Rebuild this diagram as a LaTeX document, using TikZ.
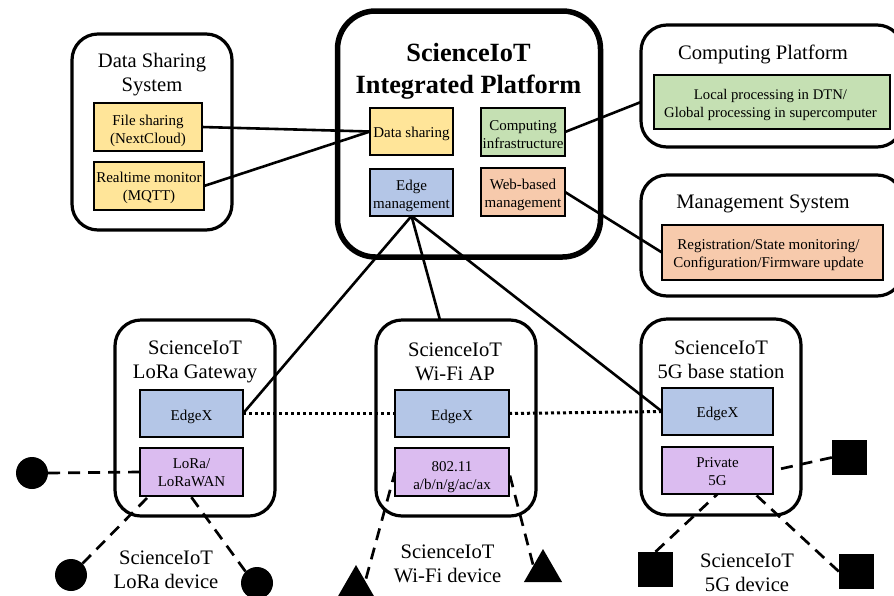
\documentclass[tikz,border=0pt]{standalone}
\usepackage{fontspec}
\setmainfont{Liberation Serif}
\usetikzlibrary{calc,shapes.geometric}
\definecolor{cyellow}{HTML}{FFE599}
\definecolor{cgreen}{HTML}{C5E0B3}
\definecolor{cblue}{HTML}{B4C6E7}
\definecolor{corange}{HTML}{F7CAAC}
\definecolor{cpurple}{HTML}{DBBCF0}
\newcommand\dn[1]{\rule{0pt}{#1pt}}
\tikzset{
  outerbox/.style={draw=black,line width=3.2pt,rounded corners=26pt,inner sep=0pt,outer sep=0pt,anchor=north west},
  mainbox/.style={draw=black,line width=5.5pt,rounded corners=38pt,inner sep=0pt,outer sep=0pt,anchor=north west},
  inbox/.style={draw=black,line width=1.6pt,inner sep=0pt,outer sep=0pt,align=center,anchor=north west,
    font=\fontsize{15}{18}\selectfont,text depth=0pt},
  title/.style={align=center,font=\fontsize{20.6}{24}\selectfont,inner sep=0pt},
  link/.style={line width=2.6pt},
  wire/.style={line width=2.7pt,dash pattern=on 12pt off 8pt},
  dots/.style={line width=3pt,dash pattern=on 3pt off 3pt},
  dev/.style={fill=black,draw=none,inner sep=0pt}
}
\begin{document}
\begin{tikzpicture}[x=1pt,y=-1pt]
\useasboundingbox (0,0) rectangle (894,595);
\clip (0,0) rectangle (894,595);
% outer boxes
\node[outerbox,minimum width=160pt,minimum height=196pt] (dss) at (72,34) {};
\node[mainbox,minimum width=263pt,minimum height=246pt] (main) at (337.5,11) {};
\node[outerbox,minimum width=262pt,minimum height=122pt] (cp) at (641,25) {};
\node[outerbox,minimum width=262pt,minimum height=121pt] (ms) at (641,175) {};
\node[outerbox,minimum width=160pt,minimum height=196pt] (gw) at (115,320) {};
\node[outerbox,minimum width=160pt,minimum height=196pt] (ap) at (376,320) {};
\node[outerbox,minimum width=160pt,minimum height=196pt] (bs) at (641,319) {};
% titles
\node[title] (tdss) at (152,75) {Data Sharing\\System};
\node[align=center,inner sep=0pt,font=\bfseries\fontsize{26.3}{32}\selectfont] (tmain) at (468.5,71.5) {ScienceIoT\\Integrated Platform};
\node[title] (tcp) at (763,54) {Computing Platform};
\node[title] (tms) at (763,204) {Management System};
\node[title] (tgw) at (195,362) {ScienceIoT\\LoRa Gateway};
\node[title] (tap) at (455,362) {ScienceIoT\\Wi-Fi AP};
\node[title] (tbs) at (721,360) {ScienceIoT\\5G base station};
\node[title] (tld) at (166,570) {ScienceIoT\\LoRa device};
\node[title] (twd) at (447.5,564) {ScienceIoT\\Wi-Fi device};
\node[title] (t5d) at (747,573) {ScienceIoT\\5G device};
% inner boxes
\node[inbox,fill=cyellow,minimum width=108pt,minimum height=48pt] (file) at (94,103) {\dn{14}File sharing\\(NextCloud)};
\node[inbox,fill=cyellow,minimum width=110pt,minimum height=48pt] (rt) at (94,162) {Realtime monitor\\(MQTT)};
\node[inbox,fill=cyellow,minimum width=83pt,minimum height=47pt] (ds) at (370,108) {\dn{12.5}Data sharing};
\node[inbox,fill=cgreen,minimum width=84pt,minimum height=48pt] (ci) at (481,108) {\dn{15.5}Computing\\infrastructure};
\node[inbox,fill=cblue,minimum width=83pt,minimum height=47pt] (em) at (370,169) {\dn{14.5}Edge\\management};
\node[inbox,fill=corange,minimum width=84pt,minimum height=48pt] (wb) at (481,168) {\dn{13.5}Web-based\\management};
\node[inbox,font=\fontsize{14.7}{18}\selectfont,fill=cgreen,minimum width=236pt,minimum height=54pt] (lp) at (654,75) {\dn{12.5}Local processing in DTN/\hspace*{3pt}\\Global processing in supercomputer\hspace*{3pt}};
\node[inbox,fill=corange,minimum width=221pt,minimum height=55pt] (rs) at (662,225) {\dn{12.5}Registration/State monitoring/\hspace*{8pt}\\Configuration/Firmware update\hspace*{8pt}};
\node[inbox,fill=cblue,minimum width=103pt,minimum height=47pt] (eg) at (140,390) {\dn{14.5}EdgeX};
\node[inbox,fill=cpurple,minimum width=103pt,minimum height=48pt] (lo) at (140,448) {\dn{11.5}LoRa/\\LoRaWAN};
\node[inbox,fill=cblue,minimum width=114pt,minimum height=47pt] (ea) at (395,390) {\dn{14.5}EdgeX};
\node[inbox,fill=cpurple,minimum width=114pt,minimum height=48pt] (wi) at (395,448) {\dn{16.5}802.11\\a/b/n/g/ac/ax};
\node[inbox,fill=cblue,minimum width=111pt,minimum height=47pt] (eb) at (662,388) {\dn{12.5}EdgeX};
\node[inbox,fill=cpurple,minimum width=111pt,minimum height=47pt] (pv) at (662,447) {\dn{12.5}Private\\5G};
% devices
\node[dev,circle,minimum size=32pt] (c1) at (32,473) {};
\node[dev,circle,minimum size=32pt] (c2) at (71,575) {};
\node[dev,circle,minimum size=32pt] (c3) at (257,583) {};
\node[dev,regular polygon,regular polygon sides=3,minimum size=44pt] (t1) at (356,587) {};
\node[dev,regular polygon,regular polygon sides=3,minimum size=44pt] (t2) at (543,571) {};
\node[dev,minimum size=35pt] (s1) at (849.5,457.5) {};
\node[dev,minimum size=35pt] (s2) at (655.5,569.5) {};
\node[dev,minimum size=35pt] (s3) at (856.5,571.5) {};
% solid links
\draw[link] (file.east) -- (ds.west);
\draw[link] (rt.east) -- (ds.west);
\draw[link] (ci.east) -- (cp.west |- 0,102);
\draw[link] (wb.east) -- (rs.west);
\draw[link] (em.south) -- (eg.east);
\draw[link] (em.south) -- ($(ap.north)+(-16,0)$);
\draw[link] (em.south) -- (eb.west);
% dotted links
\draw[dots] (eg.east) -- (ea.west);
\draw[dots] (ea.east) -- (eb.west);
% dashed links
\draw[wire] (c1.east) -- (lo.west);
\draw[wire] (c2.north east) -- ($(lo.south west)+(9,0)$);
\draw[wire] (c3.north west) -- ($(lo.south)+(-1,0)$);
\draw[wire] (t1.north) ++(10,14) -- (wi.west);
\draw[wire] (t2.north) ++(-10,16) -- (wi.east);
\draw[wire] (s1.west) -- (pv.east);
\draw[wire] (s2.north) -- ($(pv.south)+(0,0)$);
\draw[wire] (s3.west) -- ($(pv.south east)+(-18,0)$);
\end{tikzpicture}
\end{document}
